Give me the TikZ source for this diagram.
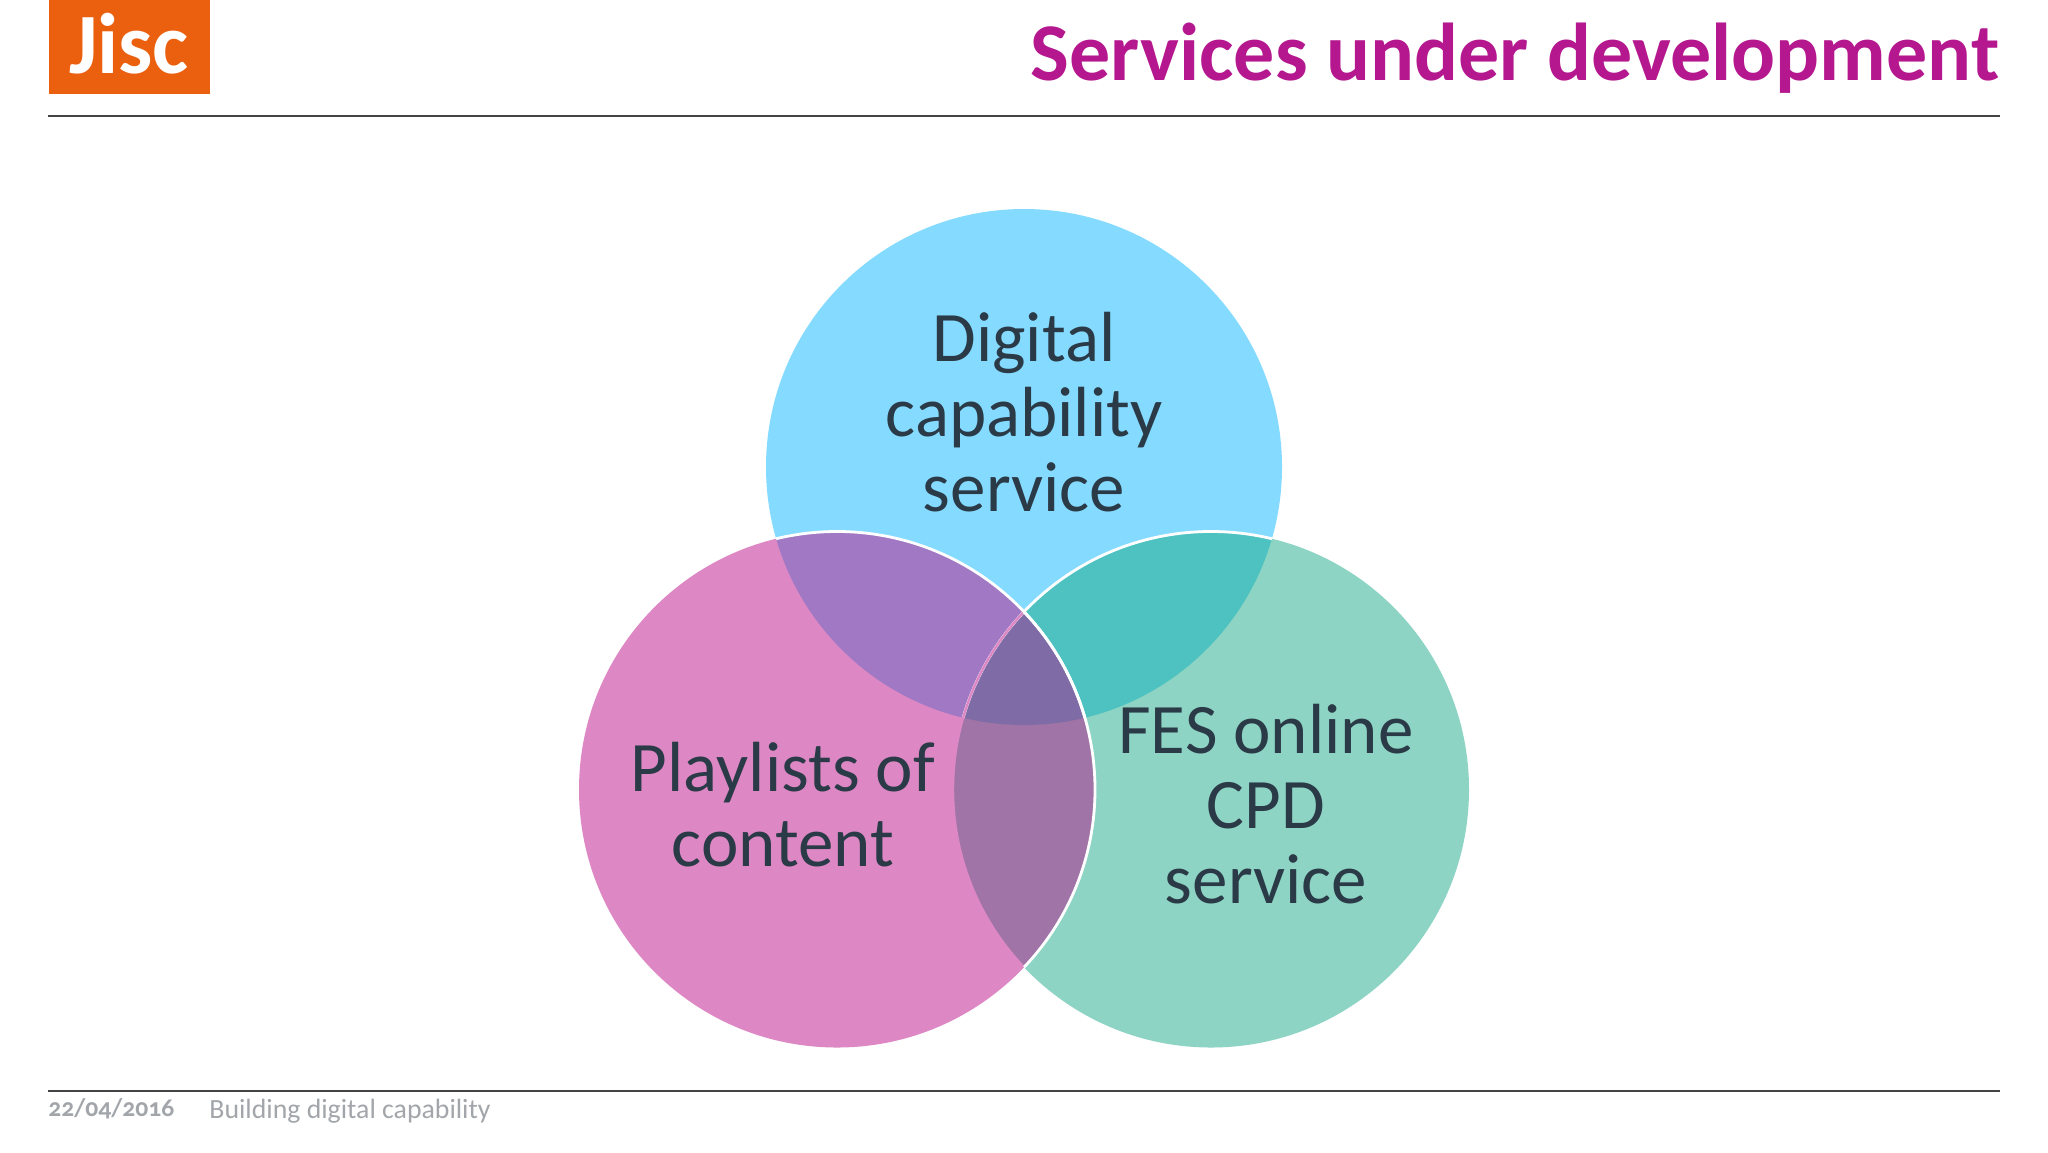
\documentclass[tikz,border=0pt]{standalone}
\usepackage{fontspec}
\setmainfont{Carlito}
\newfontfamily\oldnum[Numbers=OldStyle]{Carlito}
\definecolor{cyanc}{HTML}{85DBFF}
\definecolor{pinkc}{HTML}{DD88C4}
\definecolor{greenc}{HTML}{8DD4C4}
\definecolor{purplec}{HTML}{A078C4}
\definecolor{tealc}{HTML}{4DC2C0}
\definecolor{darkc}{HTML}{7F6CA6}
\definecolor{mauvec}{HTML}{A074A6}
\definecolor{inkc}{HTML}{2B3A47}
\definecolor{titlec}{HTML}{B5178F}
\definecolor{orangec}{HTML}{EB600F}
\definecolor{footc}{HTML}{A2A6AA}
\definecolor{rulec}{HTML}{444444}
\tikzset{
  x=0.5pt,y=-0.5pt,
  rulestyle/.style={draw=rulec,line width=0.75pt},
  labelstyle/.style={inner sep=0pt,align=center,text=inkc,font=\fontsize{35.5}{37.5}\selectfont},
  footstyle/.style={inner sep=0pt,anchor=base west,text=footc,font=\fontsize{13.9}{16}\selectfont},
}
\begin{document}
\begin{tikzpicture}
\useasboundingbox (0,0) rectangle (2048,1152);
\fill[white] (0,0) rectangle (2048,1152);
\coordinate (ct) at (1024,467);
\coordinate (cl) at (837,789.5);
\coordinate (cr) at (1211,789.5);
\def\rad{129pt}
% header
\node[inner sep=0pt,fill=orangec,minimum width=80.5pt,minimum height=47pt,anchor=north west] (logo) at (48.5,0) {};
\node[inner sep=0pt,anchor=base,text=white,font=\fontsize{43}{43}\selectfont\bfseries] (logotext) at (129,73) {Jisc};
\node[inner sep=0pt,anchor=base east,text=titlec,font=\fontsize{41}{44}\selectfont\bfseries] (title) at (2000,80) {Services under development};
\coordinate (h1) at (48,116); \coordinate (h2) at (2000,116);
\draw[rulestyle] (h1) -- (h2);
% circles
\fill[cyanc] (ct) circle[radius=\rad];
\fill[pinkc] (cl) circle[radius=\rad];
\fill[greenc] (cr) circle[radius=\rad];
% overlaps
\begin{scope}\clip (ct) circle[radius=\rad]; \fill[purplec] (cl) circle[radius=\rad]; \fill[tealc] (cr) circle[radius=\rad];\end{scope}
\begin{scope}\clip (cl) circle[radius=\rad]; \fill[mauvec] (cr) circle[radius=\rad];
  \clip (ct) circle[radius=\rad]; \fill[darkc] (cr) circle[radius=\rad];\end{scope}
% outlines
\begin{scope}\clip (ct) circle[radius=\rad]; \draw[white,line width=1.4pt] (cr) circle[radius=\rad];\end{scope}
\begin{scope}\clip (cl) circle[radius=\rad]; \draw[pinkc,line width=1.2pt] (cr) circle[radius=\rad];\end{scope}
\begin{scope}\clip (ct) circle[radius=\rad]; \draw[white,line width=1.4pt] (cl) circle[radius=\rad];\end{scope}
\begin{scope}\clip (cr) circle[radius=\rad]; \draw[white,line width=1.4pt] (cl) circle[radius=\rad];\end{scope}
% labels
\node[labelstyle] (tdigital) at (1024,412) {Digital\\capability\\service};
\node[labelstyle] (tplaylists) at (783,805) {Playlists of\\content};
\node[labelstyle] (tfes) at (1266,804) {FES online\\CPD\\service};
% footer
\coordinate (f1) at (48,1091); \coordinate (f2) at (2000,1091);
\draw[rulestyle] (f1) -- (f2);
\node[footstyle,font=\fontsize{12.8}{16}\selectfont\bfseries\oldnum] (date) at (48,1116) {22/04/2016};
\node[footstyle] (ftext) at (209,1118) {Building digital capability};
\end{tikzpicture}
\end{document}
